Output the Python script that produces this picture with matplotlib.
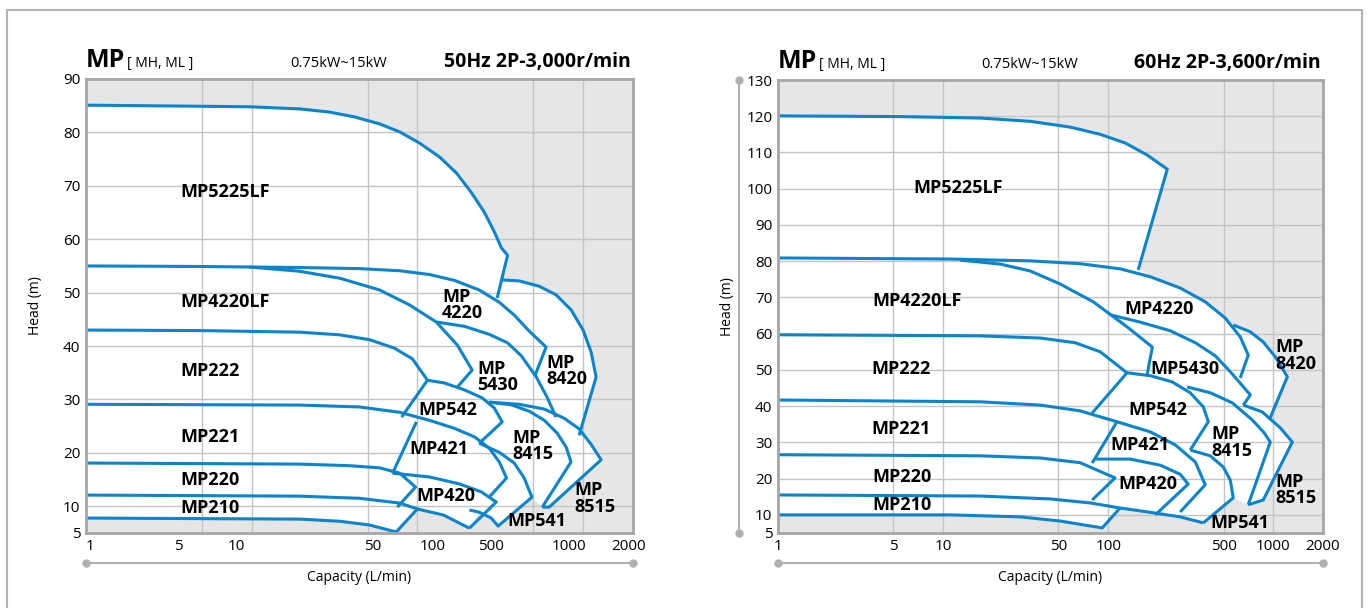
import matplotlib
matplotlib.use("Agg")
import matplotlib.pyplot as plt
from matplotlib.patches import Rectangle

plt.rcParams['font.family'] = ['Open Sans', 'DejaVu Sans']

BLUE = '#0a84cc'
GRID = '#c4c4c4'
FRAME = '#a6a6a6'
BACK = '#e6e6e6'

# ---------------- 50Hz curves (capacity L/min, head m) ----------------
c50_mp5225lf_q = [1, 4.86, 9.7, 19.5, 29.5, 41.7, 59.1, 78.2, 103, 136, 172, 211, 253, 291, 321, 350, 303]
c50_mp5225lf_h = [85.1, 84.9, 84.8, 84.4, 83.8, 82.9, 81.6, 80.1, 78.0, 75.4, 72.4, 68.8, 65.1, 61.4, 58.4, 57.0, 49.0]
c50_mp4220_q = [1, 4.86, 19.5, 44.7, 78.2, 118, 167, 236, 312, 384, 473, 598, 514]
c50_mp4220_h = [55.0, 54.9, 54.7, 54.5, 54.1, 53.4, 52.3, 50.5, 48.2, 45.8, 42.8, 39.8, 34.6]
c50_mp8420_q = [321, 411, 543, 686, 845, 1000, 1117, 1198, 946]
c50_mp8420_h = [52.4, 52.2, 51.2, 49.6, 46.8, 43.0, 38.9, 34.2, 23.3]
c50_mp4220lf_q = [9.7, 19.5, 34.0, 59.1, 89.6, 130, 174, 214, 174]
c50_mp4220lf_h = [54.8, 54.0, 52.7, 50.5, 47.7, 44.5, 40.2, 35.5, 32.3]
c50_mp5430_q = [130, 192, 271, 350, 423, 522, 607, 686]
c50_mp5430_h = [44.5, 43.7, 42.2, 40.6, 38.2, 34.2, 30.4, 26.7]
c50_mp222_q = [1, 4.86, 19.5, 34.0, 51.3, 72.7, 93.3, 115]
c50_mp222_h = [43.0, 42.9, 42.6, 42.1, 41.2, 39.6, 37.6, 33.6]
c50_mp542_q = [80.3, 115, 145, 192, 246, 291, 325, 236]
c50_mp542_h = [26.7, 33.6, 33.1, 31.8, 30.3, 28.4, 25.8, 21.8]
c50_mp8415_q = [271, 368, 473, 583, 697, 790, 845, 567]
c50_mp8415_h = [29.5, 29.0, 27.8, 26.1, 23.7, 21.1, 18.3, 9.85]
c50_mp8515_q = [271, 411, 583, 767, 946, 1117, 1284, 624, 567]
c50_mp8515_h = [29.5, 29.1, 28.2, 26.5, 24.5, 21.6, 18.7, 9.85, 9.85]
c50_mp221_q = [1, 19.5, 44.7, 78.2, 118, 167, 221, 271, 312, 345, 271]
c50_mp221_h = [29.1, 28.95, 28.6, 27.6, 26.1, 24.6, 23.0, 20.9, 18.3, 15.3, 11.7]
c50_mp421_q = [98.6, 70.8]
c50_mp421_h = [25.8, 16.2]
c50_mp220_q = [1, 19.5, 39, 59.1, 78.2, 97.4, 75.6]
c50_mp220_h = [18.1, 17.9, 17.6, 17.2, 16.2, 13.6, 9.85]
c50_mp420_q = [70.8, 118, 179, 243, 299, 206]
c50_mp420_h = [16.2, 15.5, 14.2, 12.7, 10.8, 5.9]
c50_mp210_q = [1, 19.5, 44.7, 78.2, 100, 144, 206]
c50_mp210_h = [12.1, 11.9, 11.5, 10.6, 9.5, 8.35, 5.9]
c50_mp210b_q = [1, 19.5, 34, 51.3, 74.5, 100]
c50_mp210b_h = [7.8, 7.6, 7.2, 6.5, 5.2, 9.5]
c50_mp541_q = [236, 312, 384, 441, 491, 307, 279, 236, 206]
c50_mp541_h = [21.8, 20.1, 18.1, 15.3, 11.7, 6.3, 7.8, 8.9, 9.3]

# white area (outer boundary of all models)
fill50_q = [1, 4.86, 9.7, 19.5, 29.5, 41.7, 59.1, 78.2, 103, 136, 172, 211, 253, 291, 321, 350, 321,
            411, 543, 686, 845, 1000, 1117, 1198, 946, 1117, 1284, 624, 567, 491, 307, 279, 236,
            206, 144, 100, 74.5, 51.3, 34, 19.5, 1]
fill50_h = [85.1, 84.9, 84.8, 84.4, 83.8, 82.9, 81.6, 80.1, 78.0, 75.4, 72.4, 68.8, 65.1, 61.4, 58.4, 57.0, 52.4,
            52.2, 51.2, 49.6, 46.8, 43.0, 38.9, 34.2, 23.3, 21.6, 18.7, 9.85, 9.85, 11.7, 6.3, 7.8, 8.9,
            5.9, 8.35, 9.5, 5.2, 6.5, 7.2, 7.6, 7.8]

# ---------------- 60Hz curves ----------------
c60_mp5225lf_q = [1, 5.49, 16.8, 33.7, 58.9, 89.5, 127, 172, 228, 152]
c60_mp5225lf_h = [120.1, 119.9, 119.5, 118.6, 117.0, 115.0, 112.6, 109.3, 105.4, 77.6]
c60_mp4220_q = [1, 11.0, 33.7, 67.6, 118, 180, 273, 387, 512, 631, 705, 631]
c60_mp4220_h = [80.9, 80.6, 80.1, 79.3, 77.9, 75.7, 72.6, 68.8, 64.3, 59.1, 54.1, 47.8]
c60_mp8420_q = [572, 726, 869, 1029, 1216, 946]
c60_mp8420_h = [62.4, 60.5, 57.7, 53.6, 48.1, 36.2]
c60_mp4220lf_q = [12.7, 22.2, 33.7, 51.2, 81.1, 130, 185, 172]
c60_mp4220lf_h = [80.3, 79.2, 77.3, 73.7, 68.8, 61.9, 56.3, 48.6]
c60_mp5430_q = [103, 156, 238, 337, 445, 549, 726, 658]
c60_mp5430_h = [65.2, 63.2, 60.8, 57.5, 53.9, 49.5, 43.1, 40.3]
c60_mp222_q = [1, 16.8, 38.7, 63.1, 89.5, 130]
c60_mp222_h = [59.7, 59.4, 58.8, 57.5, 55.0, 49.2]
c60_mp542_q = [80, 130, 180, 244, 314, 377, 404, 314]
c60_mp542_h = [38.1, 49.2, 48.4, 46.7, 43.7, 39.8, 35.7, 27.9]
c60_mp8415_q = [301, 415, 565, 746, 882, 959, 705]
c60_mp8415_h = [45.3, 43.7, 40.9, 36.2, 32.6, 30.1, 12.8]
c60_mp8515_q = [658, 858, 1103, 1304, 869, 705]
c60_mp8515_h = [40.3, 38.4, 34.0, 30.1, 14.1, 12.8]
c60_mp221_q = [1, 16.8, 38.7, 67.6, 113, 180, 255, 337, 387, 273]
c60_mp221_h = [41.7, 41.2, 40.3, 38.7, 35.7, 32.9, 29.3, 24.6, 18.3, 10.8]
c60_mp421_q = [113, 80]
c60_mp421_h = [35.7, 24.3]
c60_mp220_q = [1, 16.8, 38.7, 67.6, 110, 80]
c60_mp220_h = [26.6, 26.3, 25.7, 24.4, 20.2, 14.1]
c60_mp420_q = [83.4, 136, 207, 273, 305, 193]
c60_mp420_h = [25.4, 25.4, 23.7, 21.2, 18.5, 10.0]
c60_mp210_q = [1, 16.8, 44.5, 77.8, 118, 187, 273, 377]
c60_mp210_h = [15.5, 15.2, 14.4, 13.3, 11.9, 10.6, 9.45, 7.8]
c60_mp210b_q = [1, 11.0, 29.3, 51.2, 92, 118]
c60_mp210b_h = [10.0, 10.0, 9.45, 8.3, 6.4, 11.9]
c60_mp541_q = [314, 415, 498, 549, 572, 377]
c60_mp541_h = [27.9, 26.3, 23.2, 19.6, 14.7, 7.8]

fill60_q = [1, 5.49, 16.8, 33.7, 58.9, 89.5, 127, 172, 228, 156, 180, 273, 387, 512, 572, 726, 869, 1029,
            1216, 946, 1103, 1304, 869, 705, 572, 377, 273, 187, 118, 92, 51.2, 29.3, 11.0, 1]
fill60_h = [120.1, 119.9, 119.5, 118.6, 117.0, 115.0, 112.6, 109.3, 105.4, 77.6, 75.7, 72.6, 68.8, 64.3, 62.4,
            60.5, 57.7, 53.6, 48.1, 36.2, 34.0, 30.1, 14.1, 12.8, 14.7, 7.8, 9.45, 10.6, 11.9, 6.4, 8.3,
            9.45, 10.0, 10.0]

curves50 = [
    (c50_mp5225lf_q, c50_mp5225lf_h), (c50_mp4220_q, c50_mp4220_h), (c50_mp8420_q, c50_mp8420_h),
    (c50_mp4220lf_q, c50_mp4220lf_h), (c50_mp5430_q, c50_mp5430_h), (c50_mp222_q, c50_mp222_h),
    (c50_mp542_q, c50_mp542_h), (c50_mp8415_q, c50_mp8415_h), (c50_mp8515_q, c50_mp8515_h),
    (c50_mp221_q, c50_mp221_h), (c50_mp421_q, c50_mp421_h), (c50_mp220_q, c50_mp220_h),
    (c50_mp420_q, c50_mp420_h), (c50_mp210_q, c50_mp210_h), (c50_mp210b_q, c50_mp210b_h),
    (c50_mp541_q, c50_mp541_h),
]
curves60 = [
    (c60_mp5225lf_q, c60_mp5225lf_h), (c60_mp4220_q, c60_mp4220_h), (c60_mp8420_q, c60_mp8420_h),
    (c60_mp4220lf_q, c60_mp4220lf_h), (c60_mp5430_q, c60_mp5430_h), (c60_mp222_q, c60_mp222_h),
    (c60_mp542_q, c60_mp542_h), (c60_mp8415_q, c60_mp8415_h), (c60_mp8515_q, c60_mp8515_h),
    (c60_mp221_q, c60_mp221_h), (c60_mp421_q, c60_mp421_h), (c60_mp220_q, c60_mp220_h),
    (c60_mp420_q, c60_mp420_h), (c60_mp210_q, c60_mp210_h), (c60_mp210b_q, c60_mp210b_h),
    (c60_mp541_q, c60_mp541_h),
]

# model labels: (text, q, h, align)
labels50 = [
    ('MP5225LF', 6.9, 68.8, 'center'), ('MP4220LF', 6.9, 48.2, 'center'),
    ('MP222', 5.6, 35.3, 'center'), ('MP221', 5.6, 23.0, 'center'),
    ('MP220', 5.6, 14.9, 'center'), ('MP210', 5.6, 9.7, 'center'),
    ('MP\n4220', 141, 47.7, 'left'), ('MP\n5430', 230, 34.2, 'left'),
    ('MP\n8420', 598, 35.3, 'left'), ('MP542', 152, 28.0, 'center'),
    ('MP421', 134, 20.7, 'center'), ('MP420', 149, 11.9, 'center'),
    ('MP541', 528, 7.2, 'center'), ('MP\n8415', 373, 21.3, 'left'),
    ('MP\n8515', 883, 11.5, 'left'),
]
labels60 = [
    ('MP5225LF', 12.3, 100.2, 'center'), ('MP4220LF', 7.0, 69.0, 'center'),
    ('MP222', 5.6, 50.3, 'center'), ('MP221', 5.6, 33.7, 'center'),
    ('MP220', 5.6, 20.5, 'center'), ('MP210', 5.6, 12.8, 'center'),
    ('MP4220', 204, 66.8, 'center'), ('MP5430', 293, 50.3, 'center'),
    ('MP\n8420', 1029, 53.9, 'left'), ('MP542', 201, 39.0, 'center'),
    ('MP421', 156, 29.3, 'center'), ('MP420', 175, 18.6, 'center'),
    ('MP\n8415', 421, 29.9, 'left'), ('MP541', 631, 7.8, 'center'),
    ('MP\n8515', 1029, 16.9, 'left'),
]

grid_x = [5, 10, 50, 100, 500, 1000]
xtick_text = ['1', '5', '10', '50', '100', '500', '1000', '2000']
xtick_pos50 = [1.06, 3.63, 8.1, 54, 123, 279, 824, 1890]   # labels sit off the grid on the 50Hz sheet
xtick_pos60 = [1, 5, 10, 50, 100, 500, 1000, 2000]


def draw_panel(ax, curves, fill_q, fill_h, labels, ymax, xtick_pos, hz_text):
    ax.set_facecolor(BACK)
    ax.set_xscale('log')
    ax.set_xlim(1, 2000)
    ax.set_ylim(5, ymax)
    ax.set_axisbelow(True)
    ax.fill(fill_q, fill_h, color='white', lw=0, zorder=0.2)
    for q, h in curves:
        ax.plot(q, h, color=BLUE, lw=2.2, solid_joinstyle='round', solid_capstyle='butt', zorder=2)
    for txt, q, h, ha in labels:
        ax.text(q, h, txt, ha=ha, va='center', fontsize=13, fontweight='bold',
                linespacing=0.9, zorder=3)

    ax.xaxis.remove_overlapping_locs = False
    ax.set_xticks(grid_x)
    ax.set_xticklabels([])
    ax.set_xticks(xtick_pos, xtick_text, minor=True)
    ax.set_yticks([5] + list(range(10, ymax + 1, 10)))
    ax.tick_params(which='both', length=0, labelsize=11, pad=4)
    ax.grid(True, which='major', color=GRID, lw=1)
    for s in ax.spines.values():
        s.set_color(FRAME)
        s.set_linewidth(2)

    ax.text(0, 1.026, 'MP', transform=ax.transAxes, fontsize=18, fontweight='bold', va='baseline')
    ax.text(0.075, 1.026, '[ MH, ML ]', transform=ax.transAxes, fontsize=10, va='baseline')
    ax.text(0.462, 1.026, '0.75kW~15kW', transform=ax.transAxes, fontsize=10.5, va='baseline', ha='center')
    ax.text(0.996, 1.026, hz_text, transform=ax.transAxes, fontsize=14, fontweight='bold',
            va='baseline', ha='right')

    ax.set_xlabel('Capacity (L/min)', fontsize=10, labelpad=11.5)
    ax.plot([0, 1], [-0.066, -0.066], transform=ax.transAxes, color='#b0b0b0', lw=1.5,
            marker='o', ms=5, clip_on=False)


fig = plt.figure(figsize=(13.7, 6.08), dpi=100)
ax1 = fig.add_axes([86 / 1370, 1 - 533 / 608, 547 / 1370, 454 / 608])
ax2 = fig.add_axes([778 / 1370, 1 - 533 / 608, 545 / 1370, 453 / 608])

draw_panel(ax1, curves50, fill50_q, fill50_h, labels50, 90, xtick_pos50, '50Hz 2P-3,000r/min')
draw_panel(ax2, curves60, fill60_q, fill60_h, labels60, 130, xtick_pos60, '60Hz 2P-3,600r/min')

ax1.text(-0.093, 0.5, 'Head (m)', transform=ax1.transAxes, rotation=90, fontsize=10, va='center', ha='center')
ax2.text(-0.092, 0.5, 'Head (m)', transform=ax2.transAxes, rotation=90, fontsize=10, va='center', ha='center')
ax2.plot([-0.0716, -0.0716], [0, 1.0], transform=ax2.transAxes, color='#b0b0b0', lw=1.5,
         marker='o', ms=5, clip_on=False)

fig.add_artist(Rectangle((7 / 1370, -0.1), 1355 / 1370, 1.1 - 10 / 608, transform=fig.transFigure,
                         fill=False, ec='#b4b4b4', lw=1.5))

fig.savefig('out.png', dpi=100)
